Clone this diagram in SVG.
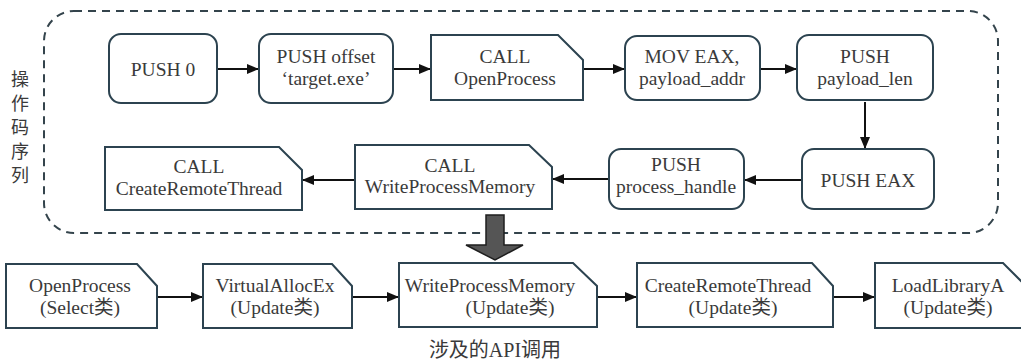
<svg xmlns="http://www.w3.org/2000/svg" width="1021" height="361" viewBox="0 0 1021 361">
  <style>
    .box { fill: #ffffff; stroke: #2c4350; stroke-width: 2; }
    .lbl { font-family: 'Liberation Serif', 'Times New Roman', Tinos, 'DejaVu Serif', 'Noto Sans CJK SC', serif; font-size: 19.5px; fill: #3a3a3a; text-anchor: middle; }
    .cjk { font-family: 'Liberation Serif', 'Times New Roman', Tinos, 'DejaVu Serif', 'Noto Sans CJK SC', serif; font-size: 18px; fill: #3a3a3a; text-anchor: middle; }
    .edge { stroke: #111111; stroke-width: 2; fill: none; marker-end: url(#arrow); }
  </style>
  <defs>
    <marker id="arrow" viewBox="0 0 12 10" refX="12" refY="5" markerWidth="12" markerHeight="10" markerUnits="userSpaceOnUse" orient="auto">
      <path d="M0,0 L12,5 L0,10 Z" fill="#111111"/>
    </marker>
  </defs>
  <rect width="1021" height="361" fill="#ffffff"/>

  <!-- opcode sequence container -->
  <g id="opcode-group">
    <rect x="44" y="11" width="954" height="222" rx="30" ry="30" fill="none" stroke="#34444c" stroke-width="2" stroke-dasharray="8,6"/>
    <text class="cjk" x="20" y="86">操</text>
    <text class="cjk" x="20" y="110">作</text>
    <text class="cjk" x="20" y="134">码</text>
    <text class="cjk" x="20" y="158">序</text>
    <text class="cjk" x="20" y="182">列</text>
  </g>

  <!-- connectors -->
  <g id="connectors">
    <line class="edge" x1="217" y1="69" x2="259" y2="69"/>
    <line class="edge" x1="393" y1="69" x2="431" y2="69"/>
    <line class="edge" x1="583" y1="69" x2="625" y2="69"/>
    <line class="edge" x1="760" y1="69" x2="797" y2="69"/>
    <line class="edge" x1="865" y1="102" x2="865" y2="149"/>
    <line class="edge" x1="802" y1="180" x2="744" y2="180"/>
    <line class="edge" x1="609" y1="179" x2="552" y2="179"/>
    <line class="edge" x1="355" y1="180" x2="302" y2="180"/>
    <line class="edge" x1="157" y1="297" x2="203" y2="297"/>
    <line class="edge" x1="352" y1="297" x2="399" y2="297"/>
    <line class="edge" x1="597" y1="297" x2="637" y2="297"/>
    <line class="edge" x1="833" y1="297" x2="875" y2="297"/>
    <!-- transition from opcodes to API calls -->
    <polygon points="486,215 504,215 504,245 523,245 495,260 466,245 486,245" fill="#555555" stroke="#1e1e1e" stroke-width="1.5"/>
  </g>

  <!-- row 1 -->
  <g id="push0">
    <rect class="box" x="109" y="34" width="108" height="69" rx="12"/>
    <text class="lbl" x="163" y="76">PUSH 0</text>
  </g>
  <g id="push-offset">
    <rect class="box" x="259" y="34" width="134" height="69" rx="12"/>
    <text class="lbl" x="326" y="63">PUSH offset</text>
    <text class="lbl" x="326" y="85">‘target.exe’</text>
  </g>
  <g id="call-openprocess">
    <path class="box" d="M431,35 H558 L583,60 V100 H431 Z"/>
    <text class="lbl" x="505" y="63">CALL</text>
    <text class="lbl" x="505" y="85">OpenProcess</text>
  </g>
  <g id="mov-eax">
    <rect class="box" x="625" y="36" width="135" height="64" rx="12"/>
    <text class="lbl" x="692" y="63">MOV EAX,</text>
    <text class="lbl" x="692" y="85">payload_addr</text>
  </g>
  <g id="push-payload-len">
    <rect class="box" x="797" y="35" width="136" height="65" rx="12"/>
    <text class="lbl" x="865" y="63">PUSH</text>
    <text class="lbl" x="865" y="85">payload_len</text>
  </g>

  <!-- row 2 -->
  <g id="push-eax">
    <rect class="box" x="802" y="149" width="132" height="60" rx="12"/>
    <text class="lbl" x="868" y="187">PUSH EAX</text>
  </g>
  <g id="push-process-handle">
    <rect class="box" x="609" y="149" width="135" height="60" rx="12"/>
    <text class="lbl" x="676" y="171">PUSH</text>
    <text class="lbl" x="676" y="193">process_handle</text>
  </g>
  <g id="call-writeprocessmemory">
    <path class="box" d="M355,145 H529 L552,167 V209 H355 Z"/>
    <text class="lbl" x="450" y="172">CALL</text>
    <text class="lbl" x="450" y="193">WriteProcessMemory</text>
  </g>
  <g id="call-createremotethread">
    <path class="box" d="M105,147 H279 L302,170 V210 H105 Z"/>
    <text class="lbl" x="199" y="173">CALL</text>
    <text class="lbl" x="199" y="195">CreateRemoteThread</text>
  </g>

  <!-- row 3: API calls -->
  <g id="api-openprocess">
    <path class="box" d="M6,264 H137 L157,286 V328 H6 Z"/>
    <text class="lbl" x="80" y="292">OpenProcess</text>
    <text class="lbl" x="80" y="314">(Select类)</text>
  </g>
  <g id="api-virtualallocex">
    <path class="box" d="M203,264 H332 L352,286 V328 H203 Z"/>
    <text class="lbl" x="275" y="292">VirtualAllocEx</text>
    <text class="lbl" x="275" y="314">(Update类)</text>
  </g>
  <g id="api-writeprocessmemory">
    <path class="box" d="M399,263 H573 L597,286 V327 H399 Z"/>
    <text class="lbl" x="490" y="292">WriteProcessMemory</text>
    <text class="lbl" x="510" y="314">(Update类)</text>
  </g>
  <g id="api-createremotethread">
    <path class="box" d="M637,263 H812 L833,286 V327 H637 Z"/>
    <text class="lbl" x="728" y="292">CreateRemoteThread</text>
    <text class="lbl" x="733" y="314">(Update类)</text>
  </g>
  <g id="api-loadlibrarya">
    <path class="box" d="M875,263 H1003 L1026,286 V328 H875 Z"/>
    <text class="lbl" x="948" y="292">LoadLibraryA</text>
    <text class="lbl" x="948" y="314">(Update类)</text>
  </g>

  <text class="cjk" x="495" y="357" style="font-size:20px">涉及的API调用</text>
</svg>
